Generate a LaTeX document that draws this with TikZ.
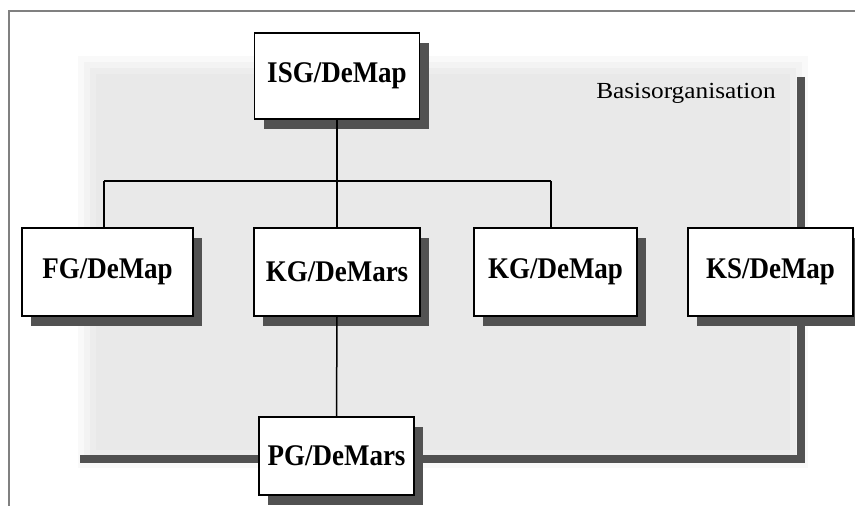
\documentclass[tikz,border=0pt]{standalone}
\usepackage{fontspec}
\setmainfont{Liberation Serif}
\newfontfamily\boxfont{Liberation Serif}[FakeStretch=0.9]
\newfontfamily\basisfont{Liberation Serif}[FakeStretch=1.1]
\usetikzlibrary{shadows}
\begin{document}
\begin{tikzpicture}[x=1pt,y=1pt,
  orgbox/.style={draw=black, line width=1.2pt, fill=white, inner sep=0pt,
    font=\boxfont\fontsize{30}{32}\selectfont\bfseries,
    drop shadow={shadow xshift=9pt, shadow yshift=-10pt, fill=black!68, opacity=1}},
  conn/.style={line width=1.5pt, black},
  thick/.style={line width=8.5pt, black!68},
  frame/.style={line width=1.6pt, black!50}]
\useasboundingbox (0,0) rectangle (855,506);
\fill[white] (0,0) rectangle (855,506);
% soft gray background area
\foreach \i/\o in {0/0.25,6/0.35,12/0.5,18/0.7}{
  \fill[black!9, opacity=\o] (78+\i,38+\i) rectangle (808-\i,450-\i);
}
% outer frame
\draw[frame] (9,0) -- (9,495) -- (855,495);
% thick line of the Basisorganisation
\coordinate (tT) at (801,429);
\coordinate (tC) at (801,47);
\coordinate (tL) at (80,47);
\draw[thick] (tT) -- (tC) -- (tL);
\node[font=\basisfont\fontsize{23}{26}\selectfont] (basis) at (686,413) {Basisorganisation};
% boxes
\node[orgbox, minimum width=165pt, minimum height=86pt] (isg) at (337,430) {ISG/DeMap};
\node[orgbox, minimum width=171pt, minimum height=88pt] (fg) at (107.5,234) {FG/DeMap};
\node[orgbox, minimum width=166pt, minimum height=88pt] (kgm) at (337,234) {KG/DeMars};
\node[orgbox, minimum width=163pt, minimum height=88pt] (kgp) at (555.5,234) {KG/DeMap};
\node[orgbox, minimum width=165pt, minimum height=88pt] (ks) at (770.5,234) {KS/DeMap};
\node[orgbox, minimum width=155pt, minimum height=78pt] (pg) at (336.5,50) {PG/DeMars};
% connectors
\coordinate (bus) at (337,325);
\coordinate (busL) at (104,325);
\coordinate (busR) at (551,325);
\draw[conn] (isg.south) -- (bus);
\draw[conn] (busL) -- (busR);
\draw[conn] (busL) -- (busL |- fg.north);
\draw[conn] (bus) -- (kgm.north);
\draw[conn] (busR) -- (busR |- kgp.north);
\draw[conn] (kgm.south) -- (pg.north);
\end{tikzpicture}
\end{document}
